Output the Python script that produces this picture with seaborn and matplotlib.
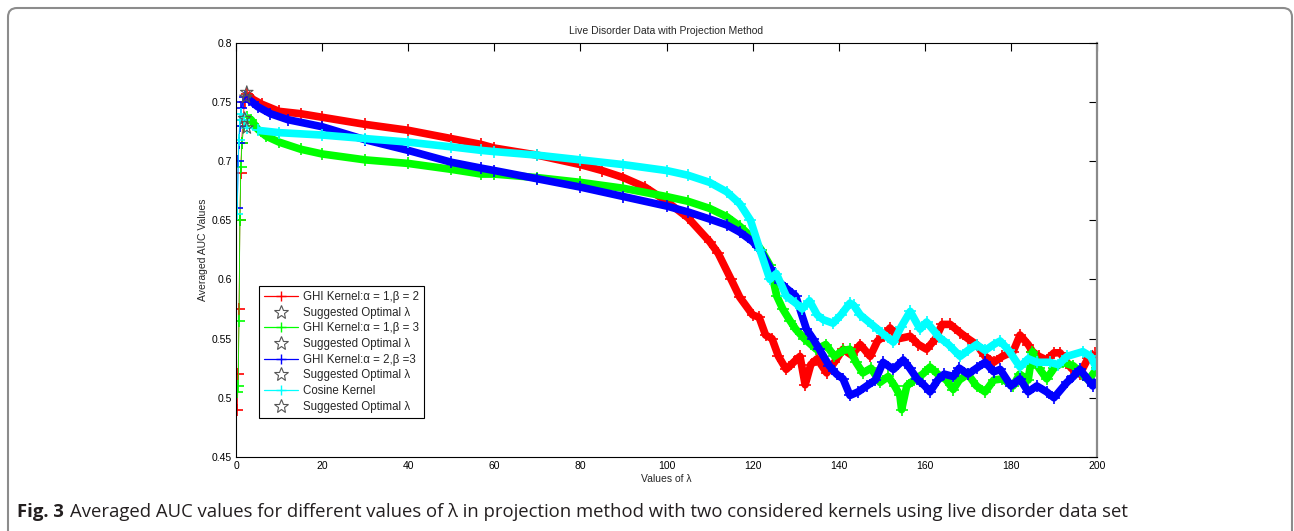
import matplotlib
matplotlib.use("Agg")
import matplotlib.pyplot as plt
import matplotlib.patches as patches
from matplotlib.lines import Line2D
import seaborn as sns
import pandas as pd

# values
red_lam = [0.3, 0.5, 0.7, 0.9, 1.1, 1.3, 1.6, 2.0, 2.5, 4, 6, 10, 15, 20, 30, 40, 50, 57, 60, 70, 80, 85, 90,
           95, 100, 105, 110, 112, 115, 117, 120, 121.5, 123, 124.5, 126, 127.8, 129.5, 131, 132.2, 133.5, 135,
           137.2, 139, 141, 143, 145, 147.3, 149, 150.5, 151.9, 154, 156.6, 158.5, 160.4, 162.5, 164, 165.9,
           168.2, 170, 172, 174, 176, 178, 180.5, 182.1, 184, 185, 186.5, 188.3, 190, 191.4, 194, 196, 198, 199.5]
red_auc = [0.49, 0.52, 0.575, 0.65, 0.69, 0.715, 0.735, 0.75, 0.757, 0.752, 0.748, 0.742, 0.740, 0.737, 0.731,
           0.726, 0.719, 0.714, 0.711, 0.705, 0.697, 0.692, 0.686, 0.678, 0.666, 0.652, 0.632, 0.622, 0.600,
           0.585, 0.570, 0.568, 0.553, 0.550, 0.535, 0.524, 0.530, 0.535, 0.511, 0.528, 0.533, 0.521, 0.530,
           0.541, 0.536, 0.545, 0.535, 0.548, 0.552, 0.559, 0.550, 0.552, 0.545, 0.541, 0.550, 0.562, 0.562,
           0.555, 0.550, 0.545, 0.535, 0.530, 0.535, 0.539, 0.553, 0.545, 0.539, 0.535, 0.532, 0.538, 0.538,
           0.525, 0.520, 0.534, 0.538]

green_lam = [0.3, 0.5, 0.7, 0.9, 1.1, 1.4, 1.8, 2.5, 3.5, 5, 7, 10, 15, 20, 30, 40, 50, 57, 60, 70, 80, 90, 100,
             105, 110, 114, 117, 120, 122, 124, 125.6, 127, 128.7, 130, 132, 134.8, 137, 139, 141, 142.6, 144,
             145.6, 147.5, 149.6, 151.5, 153, 154.2, 154.6, 155.8, 157.5, 159.5, 161.2, 163, 165, 166.6, 168,
             170, 172, 174, 176, 178, 180.5, 182, 184, 185, 186.5, 188.3, 190, 192, 194.5, 196.5, 198, 200]
green_auc = [0.505, 0.51, 0.565, 0.65, 0.695, 0.715, 0.73, 0.737, 0.735, 0.727, 0.721, 0.716, 0.710, 0.706,
             0.701, 0.698, 0.693, 0.689, 0.689, 0.686, 0.682, 0.677, 0.670, 0.666, 0.660, 0.653, 0.645, 0.635,
             0.625, 0.612, 0.586, 0.575, 0.565, 0.558, 0.550, 0.541, 0.545, 0.535, 0.540, 0.541, 0.530, 0.521,
             0.525, 0.513, 0.518, 0.510, 0.502, 0.490, 0.510, 0.515, 0.520, 0.526, 0.520, 0.515, 0.507, 0.515,
             0.520, 0.510, 0.505, 0.515, 0.516, 0.510, 0.520, 0.515, 0.539, 0.525, 0.516, 0.525, 0.530, 0.527,
             0.520, 0.515, 0.525]

blue_lam = [0.3, 0.5, 0.7, 0.9, 1.2, 1.6, 2.2, 3, 5, 8, 12, 20, 30, 40, 50, 57, 60, 70, 80, 90, 100, 105, 110,
            114, 117, 120, 121.7, 124, 126.4, 128, 130, 132.5, 134, 135.5, 137.8, 139.5, 141, 142.6, 144.5, 146.5,
            148.5, 150.3, 152.7, 155, 156.5, 158.2, 160, 161.2, 163, 164.5, 166.6, 168, 170, 172, 174, 176, 177.5,
            180, 182.1, 184, 186, 188.3, 190, 193, 194.5, 196, 198, 199, 200]
blue_auc = [0.66, 0.70, 0.715, 0.73, 0.745, 0.75, 0.754, 0.752, 0.746, 0.740, 0.735, 0.729, 0.718, 0.709,
            0.699, 0.694, 0.692, 0.685, 0.678, 0.670, 0.662, 0.657, 0.651, 0.646, 0.640, 0.632, 0.625, 0.610,
            0.597, 0.592, 0.586, 0.558, 0.550, 0.541, 0.527, 0.520, 0.516, 0.502, 0.505, 0.510, 0.515, 0.530,
            0.524, 0.532, 0.525, 0.516, 0.510, 0.505, 0.515, 0.520, 0.518, 0.525, 0.520, 0.525, 0.530, 0.522,
            0.524, 0.510, 0.516, 0.505, 0.510, 0.505, 0.500, 0.513, 0.518, 0.524, 0.515, 0.510, 0.515]

cyan_lam = [0.3, 0.6, 0.9, 1.2, 1.8, 2.5, 5, 10, 20, 30, 40, 50, 57, 60, 70, 80, 90, 100, 105, 110, 114, 117,
            119.5, 121.7, 124, 125.5, 127.8, 130, 131.5, 133.2, 135, 136.4, 138.7, 140.5, 142.6, 143.5, 145, 148,
            150, 152.7, 154.5, 156.6, 158.9, 160.4, 163.4, 165.5, 168.2, 170, 172, 174, 176, 177.5, 179.5, 182.1,
            184, 186, 189, 191, 193, 196.7, 198.5, 200]
cyan_auc = [0.655, 0.718, 0.735, 0.74, 0.735, 0.728, 0.726, 0.724, 0.722, 0.719, 0.716, 0.712, 0.709, 0.708,
            0.705, 0.701, 0.697, 0.692, 0.688, 0.682, 0.674, 0.664, 0.650, 0.625, 0.600, 0.605, 0.586, 0.580,
            0.575, 0.582, 0.570, 0.566, 0.563, 0.570, 0.580, 0.578, 0.570, 0.561, 0.555, 0.547, 0.560, 0.573,
            0.558, 0.564, 0.551, 0.545, 0.535, 0.540, 0.545, 0.540, 0.545, 0.548, 0.540, 0.526, 0.533, 0.530,
            0.530, 0.528, 0.535, 0.539, 0.535, 0.524]

# suggested optimal lambda (peaks)
opt_lam = [2.5, 2.0, 2.3, 2.5]
opt_auc = [0.758, 0.736, 0.754, 0.728]

series = [
    ("GHI Kernel:α = 1,β = 2", red_lam, red_auc, "#ff0000", 8),
    ("GHI Kernel:α = 1,β = 3", green_lam, green_auc, "#00ff00", 7),
    ("GHI Kernel:α = 2,β =3", blue_lam, blue_auc, "#0000ff", 7),
    ("Cosine Kernel", cyan_lam, cyan_auc, "#00ffff", 6),
]

sns.set_style("white")
plt.rcParams["font.family"] = ["Liberation Sans", "DejaVu Sans"]

fig = plt.figure(figsize=(12.94, 5.31), dpi=100)
ax = fig.add_axes([0.1824, 0.1394, 0.6654, 0.7802])

for name, lam, auc, col, k in series:
    df = pd.DataFrame({"lam": lam, "auc": auc})
    # thin connecting line with + markers
    sns.lineplot(data=df, x="lam", y="auc", ax=ax, color=col, lw=0.6, marker="+",
                 markersize=8, markeredgewidth=1.2, markeredgecolor=col, legend=False, sort=False)
    # dense band of markers past the peak
    sns.lineplot(data=df.iloc[k:], x="lam", y="auc", ax=ax, color=col, lw=5.5,
                 legend=False, sort=False, solid_capstyle="butt")

sns.scatterplot(x=opt_lam, y=opt_auc, ax=ax, marker="*", s=90, facecolor="none",
                edgecolor="#555555", linewidth=0.8, zorder=5, legend=False)

ax.set_xlim(0, 200)
ax.set_ylim(0.45, 0.8)
ax.set_xticks(range(0, 201, 20))
yt = [0.45, 0.5, 0.55, 0.6, 0.65, 0.7, 0.75, 0.8]
ax.set_yticks(yt)
ax.set_yticklabels(["0.45", "0.5", "0.55", "0.6", "0.65", "0.7", "0.75", "0.8"])
ax.tick_params(direction="in", length=5.8, width=0.8, top=True, right=True,
               labelsize=7.5, pad=3, colors="black")
for s in ax.spines.values():
    s.set_color("black")
    s.set_linewidth(0.8)
ax.spines["right"].set_color("#8a8a8a")
ax.spines["right"].set_linewidth(1.6)

ax.set_title("Live Disorder Data with Projection Method", fontsize=7.5, pad=6)
ax.set_xlabel("Values of λ", fontsize=7.5, labelpad=2)
ax.set_ylabel("Averaged AUC Values", fontsize=7.5, labelpad=3)

handles = []
labels = []
for name, lam, auc, col, k in series:
    handles.append(Line2D([], [], color=col, lw=0.9, marker="+", markersize=7, markeredgewidth=1.0))
    labels.append(name)
    handles.append(Line2D([], [], ls="none", marker="*", markersize=10, markerfacecolor="none",
                          markeredgecolor="#555555", markeredgewidth=0.8))
    labels.append("Suggested Optimal λ")
leg = ax.legend(handles, labels, loc="lower left", bbox_to_anchor=(0.0267, 0.094), fontsize=8.3,
                frameon=True, fancybox=False, framealpha=1, edgecolor="black", borderpad=0.45,
                labelspacing=0.32, handlelength=2.9, handletextpad=0.45, borderaxespad=0)
leg.get_frame().set_linewidth(0.8)

# outer rounded frame
frame = patches.FancyBboxPatch((8 / 1294, -0.2), 1284 / 1294, 0.2 + 523 / 531,
                               boxstyle="round,pad=0,rounding_size=0.007", mutation_aspect=1294 / 531,
                               transform=fig.transFigure, fill=False, ec="#8c8c8c", lw=1.5)
fig.patches.append(frame)

# caption
t1 = fig.text(17 / 1294, 1 - 512 / 531, "Fig. 3", fontsize=13.3, fontweight="bold",
              family=["Open Sans", "DejaVu Sans"], va="center", color="#231f20")
fig.canvas.draw()
bb = t1.get_window_extent()
fig.text((bb.x1 + 6) / 1294, 1 - 512 / 531,
         "Averaged AUC values for different values of λ in projection method with two considered kernels using live disorder data set",
         fontsize=13.3, family=["Open Sans", "DejaVu Sans"], va="center", color="#231f20")

fig.savefig("out.png", dpi=100)
